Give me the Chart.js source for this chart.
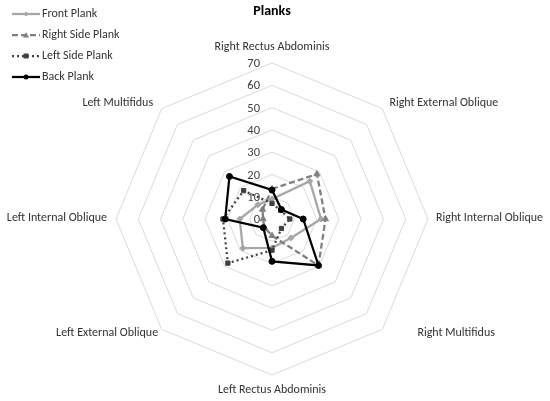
<!DOCTYPE html>
<html><head><meta charset="utf-8">
<script src="https://cdn.jsdelivr.net/npm/chart.js@4.4.0/dist/chart.umd.min.js"></script>
<style>html,body{margin:0;padding:0;background:#fff;}#wrap{width:550px;height:401px;}</style>
</head><body><div id="wrap"><canvas id="c" width="550" height="401"></canvas></div>
<script>
const categories = ['Right Rectus Abdominis','Right External Oblique','Right Internal Oblique','Right Multifidus','Left Rectus Abdominis','Left External Oblique','Left Internal Oblique','Left Multifidus'];
const seriesNames = ['Front Plank','Right Side Plank','Left Side Plank','Back Plank'];
const frontPlank     = [9, 24, 22, 12, 13, 18.5, 14.5, 9];
const rightSidePlank = [13.5, 28.5, 24, 29.5, 7.5, 5, 4, 6];
const leftSidePlank  = [7, 5.5, 8, 6, 14, 28, 22, 18];
const backPlank      = [13, 6, 14, 29.5, 19, 5.5, 21, 27];
const tickValues = [0, 10, 20, 30, 40, 50, 60, 70];
const titleText = 'Planks';

const FONT = 'Carlito, Lato, "Liberation Sans", sans-serif';
const styles = [
  {color:'#a6a6a6', dash:[], point:'rectRot', pr:3},
  {color:'#7f7f7f', dash:[6,3], point:'triangle', pr:3.5},
  {color:'#404040', dash:[2,3], point:'rect', pr:3},
  {color:'#000000', dash:[], point:'circle', pr:3}
];
const seriesData = [frontPlank, rightSidePlank, leftSidePlank, backPlank];

const datasets = seriesNames.map((n,i)=>({
  label:n, data:seriesData[i], fill:false,
  borderColor:styles[i].color, backgroundColor:styles[i].color,
  pointBackgroundColor:styles[i].color, pointBorderColor:styles[i].color,
  borderWidth:2.25, borderDash:styles[i].dash, pointStyle:styles[i].point,
  pointRadius:styles[i].pr, pointBorderWidth:1, tension:0, order:4-i
}));

function drawMarker(ctx, style, x, y, r, color){
  ctx.save(); ctx.fillStyle=color; ctx.strokeStyle=color; ctx.setLineDash([]);
  ctx.beginPath();
  if(style==='circle'){ctx.arc(x,y,r,0,Math.PI*2);}
  else if(style==='rect'){ctx.rect(x-r,y-r,2*r,2*r);}
  else if(style==='rectRot'){ctx.moveTo(x,y-r);ctx.lineTo(x+r,y);ctx.lineTo(x,y+r);ctx.lineTo(x-r,y);ctx.closePath();}
  else if(style==='triangle'){ctx.moveTo(x,y-r);ctx.lineTo(x+r,y+r*0.8);ctx.lineTo(x-r,y+r*0.8);ctx.closePath();}
  ctx.fill(); ctx.restore();
}

const labelNudge = [[0,-6],[0,1.5],[-2,-1],[28,-3],[0,5],[3.5,-3],[1,-1],[-1.5,1.5]];

const customDraw = {
  id:'customDraw',
  beforeDatasetsDraw(chart){
    const ctx=chart.ctx, s=chart.scales.r;
    ctx.save();
    ctx.font='12.5px '+FONT; ctx.fillStyle='#404040';
    ctx.textAlign='right'; ctx.textBaseline='middle';
    tickValues.forEach(v=>{
      const d=s.getDistanceFromCenterForValue(v);
      ctx.fillText(String(v), s.xCenter-12, s.yCenter-d+1);
    });
    ctx.restore();
  },
  afterDraw(chart){
    const ctx=chart.ctx, s=chart.scales.r;
    ctx.save();
    ctx.font='12px '+FONT; ctx.fillStyle='#333333'; ctx.textBaseline='middle';
    categories.forEach((c,i)=>{
      const p=s.getPointPosition(i, s.drawingArea+10);
      const cos=Math.cos(p.angle);
      ctx.textAlign=Math.abs(cos)<0.01?'center':(cos>0?'left':'right');
      ctx.fillText(c, p.x+labelNudge[i][0], p.y+labelNudge[i][1]);
    });
    ctx.font='bold 14px '+FONT; ctx.fillStyle='#000'; ctx.textAlign='center';
    ctx.fillText(titleText, s.xCenter, 11);
    ctx.font='12px '+FONT; ctx.textAlign='left';
    seriesNames.forEach((n,i)=>{
      const y=14+i*21;
      ctx.save(); ctx.strokeStyle=styles[i].color; ctx.lineWidth=2.25; ctx.setLineDash(styles[i].dash);
      ctx.beginPath(); ctx.moveTo(12,y); ctx.lineTo(40,y); ctx.stroke(); ctx.restore();
      drawMarker(ctx, styles[i].point, 26, y, styles[i].pr-0.5, styles[i].color);
      ctx.fillStyle='#333333';
      ctx.fillText(n, 42, y);
    });
    ctx.restore();
  }
};

new Chart(document.getElementById('c'), {
  type:'radar',
  data:{labels:categories, datasets:datasets},
  options:{
    responsive:false, animation:false, devicePixelRatio:1,
    layout:{padding:{top:63,bottom:25,left:100,right:105}},
    plugins:{legend:{display:false}, title:{display:false}, tooltip:{enabled:false}},
    elements:{line:{borderJoinStyle:'miter'}},
    scales:{r:{
      min:0, max:70,
      ticks:{display:false, stepSize:10},
      pointLabels:{display:false},
      angleLines:{display:false},
      grid:{color:'#d9d9d9', lineWidth:1, circular:false}
    }}
  },
  plugins:[customDraw]
});
</script></body></html>
